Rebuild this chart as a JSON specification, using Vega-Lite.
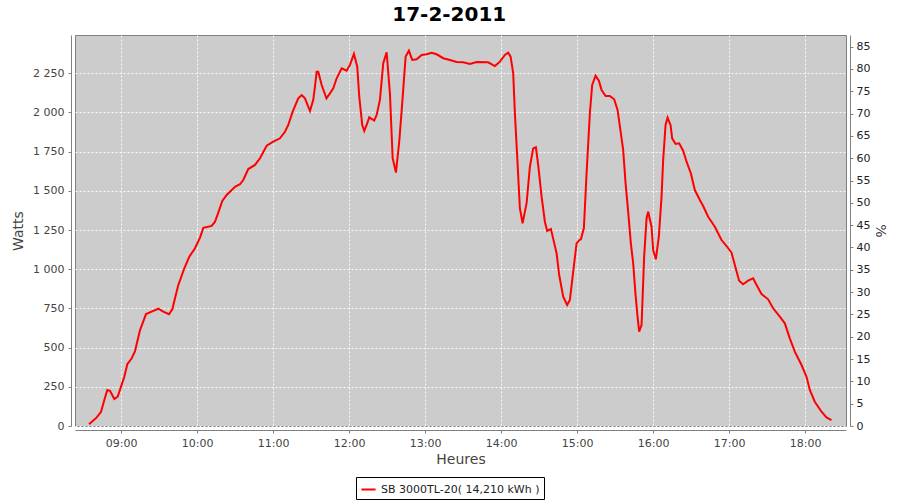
{
  "$schema": "https://vega.github.io/schema/vega-lite/v6.json",
  "width": 771,
  "height": 391,
  "autosize": {"type": "none"},
  "padding": {"left": 75, "top": 35, "right": 54, "bottom": 74},
  "background": "white",
  "title": {"text": "17-2-2011", "font": "DejaVu Sans", "fontSize": 20, "fontWeight": "bold", "color": "#000000", "anchor": "middle", "frame": "bounds", "offset": 10},
  "config": {
    "locale": {"number": {"decimal": ",", "thousands": " ", "grouping": [3], "currency": ["", ""]}},
    "view": {"fill": "#CCCCCC", "stroke": "#808080", "strokeWidth": 1},
    "axis": {"labelFont": "DejaVu Sans", "labelFontSize": 11, "labelColor": "#444444", "titleFont": "DejaVu Sans", "titleFontSize": 14, "titleFontWeight": "normal", "titleColor": "#444444", "domainColor": "#808080", "tickColor": "#808080", "tickSize": 3, "gridColor": "#FFFFFF", "gridDash": [2, 2], "gridWidth": 1, "gridOpacity": 0.9}
  },
  "layer": [
    {
      "data": {"values": [
        {"t": "2011-02-17T08:34:45", "watts": 11},
        {"t": "2011-02-17T08:40:50", "watts": 55},
        {"t": "2011-02-17T08:44:13", "watts": 91},
        {"t": "2011-02-17T08:46:49", "watts": 166},
        {"t": "2011-02-17T08:49:11", "watts": 230},
        {"t": "2011-02-17T08:51:19", "watts": 225},
        {"t": "2011-02-17T08:54:43", "watts": 172},
        {"t": "2011-02-17T08:57:24", "watts": 187},
        {"t": "2011-02-17T09:00:00", "watts": 251},
        {"t": "2011-02-17T09:02:36", "watts": 314},
        {"t": "2011-02-17T09:04:58", "watts": 394},
        {"t": "2011-02-17T09:08:27", "watts": 432},
        {"t": "2011-02-17T09:11:03", "watts": 478},
        {"t": "2011-02-17T09:15:00", "watts": 612},
        {"t": "2011-02-17T09:19:44", "watts": 714},
        {"t": "2011-02-17T09:25:29", "watts": 734},
        {"t": "2011-02-17T09:29:26", "watts": 748},
        {"t": "2011-02-17T09:33:23", "watts": 729},
        {"t": "2011-02-17T09:37:53", "watts": 713},
        {"t": "2011-02-17T09:40:29", "watts": 744},
        {"t": "2011-02-17T09:42:37", "watts": 815},
        {"t": "2011-02-17T09:45:13", "watts": 899},
        {"t": "2011-02-17T09:49:58", "watts": 1006},
        {"t": "2011-02-17T09:53:54", "watts": 1080},
        {"t": "2011-02-17T09:58:24", "watts": 1134},
        {"t": "2011-02-17T10:02:21", "watts": 1202},
        {"t": "2011-02-17T10:04:57", "watts": 1264},
        {"t": "2011-02-17T10:11:35", "watts": 1276},
        {"t": "2011-02-17T10:14:11", "watts": 1303},
        {"t": "2011-02-17T10:16:47", "watts": 1361},
        {"t": "2011-02-17T10:19:57", "watts": 1435},
        {"t": "2011-02-17T10:23:25", "watts": 1474},
        {"t": "2011-02-17T10:29:58", "watts": 1526},
        {"t": "2011-02-17T10:33:55", "watts": 1542},
        {"t": "2011-02-17T10:36:31", "watts": 1569},
        {"t": "2011-02-17T10:40:28", "watts": 1639},
        {"t": "2011-02-17T10:45:45", "watts": 1665},
        {"t": "2011-02-17T10:49:42", "watts": 1708},
        {"t": "2011-02-17T10:54:59", "watts": 1788},
        {"t": "2011-02-17T11:00:11", "watts": 1814},
        {"t": "2011-02-17T11:05:29", "watts": 1835},
        {"t": "2011-02-17T11:09:26", "watts": 1877},
        {"t": "2011-02-17T11:12:02", "watts": 1920},
        {"t": "2011-02-17T11:15:31", "watts": 2005},
        {"t": "2011-02-17T11:19:55", "watts": 2090},
        {"t": "2011-02-17T11:22:37", "watts": 2111},
        {"t": "2011-02-17T11:25:13", "watts": 2090},
        {"t": "2011-02-17T11:29:10", "watts": 2009},
        {"t": "2011-02-17T11:31:46", "watts": 2080},
        {"t": "2011-02-17T11:33:06", "watts": 2164},
        {"t": "2011-02-17T11:34:27", "watts": 2260},
        {"t": "2011-02-17T11:35:43", "watts": 2260},
        {"t": "2011-02-17T11:38:23", "watts": 2175},
        {"t": "2011-02-17T11:42:11", "watts": 2090},
        {"t": "2011-02-17T11:44:56", "watts": 2122},
        {"t": "2011-02-17T11:47:33", "watts": 2154},
        {"t": "2011-02-17T11:50:14", "watts": 2218},
        {"t": "2011-02-17T11:54:11", "watts": 2282},
        {"t": "2011-02-17T11:58:07", "watts": 2266},
        {"t": "2011-02-17T12:00:44", "watts": 2303},
        {"t": "2011-02-17T12:03:53", "watts": 2373},
        {"t": "2011-02-17T12:06:29", "watts": 2292},
        {"t": "2011-02-17T12:08:04", "watts": 2101},
        {"t": "2011-02-17T12:10:26", "watts": 1920},
        {"t": "2011-02-17T12:12:01", "watts": 1882},
        {"t": "2011-02-17T12:13:55", "watts": 1920},
        {"t": "2011-02-17T12:15:58", "watts": 1969},
        {"t": "2011-02-17T12:19:54", "watts": 1948},
        {"t": "2011-02-17T12:21:48", "watts": 1984},
        {"t": "2011-02-17T12:24:24", "watts": 2080},
        {"t": "2011-02-17T12:27:01", "watts": 2314},
        {"t": "2011-02-17T12:29:41", "watts": 2384},
        {"t": "2011-02-17T12:32:17", "watts": 2122},
        {"t": "2011-02-17T12:34:26", "watts": 1708},
        {"t": "2011-02-17T12:37:02", "watts": 1616},
        {"t": "2011-02-17T12:39:38", "watts": 1814},
        {"t": "2011-02-17T12:42:00", "watts": 2059},
        {"t": "2011-02-17T12:44:41", "watts": 2356},
        {"t": "2011-02-17T12:47:17", "watts": 2394},
        {"t": "2011-02-17T12:49:54", "watts": 2335},
        {"t": "2011-02-17T12:53:22", "watts": 2339},
        {"t": "2011-02-17T12:57:19", "watts": 2367},
        {"t": "2011-02-17T13:01:16", "watts": 2371},
        {"t": "2011-02-17T13:05:12", "watts": 2381},
        {"t": "2011-02-17T13:09:09", "watts": 2371},
        {"t": "2011-02-17T13:14:22", "watts": 2346},
        {"t": "2011-02-17T13:19:39", "watts": 2335},
        {"t": "2011-02-17T13:24:56", "watts": 2322},
        {"t": "2011-02-17T13:30:08", "watts": 2320},
        {"t": "2011-02-17T13:35:26", "watts": 2309},
        {"t": "2011-02-17T13:40:43", "watts": 2322},
        {"t": "2011-02-17T13:49:52", "watts": 2320},
        {"t": "2011-02-17T13:55:10", "watts": 2296},
        {"t": "2011-02-17T13:59:07", "watts": 2324},
        {"t": "2011-02-17T14:03:03", "watts": 2367},
        {"t": "2011-02-17T14:05:40", "watts": 2381},
        {"t": "2011-02-17T14:07:33", "watts": 2356},
        {"t": "2011-02-17T14:09:36", "watts": 2250},
        {"t": "2011-02-17T14:10:56", "watts": 1995},
        {"t": "2011-02-17T14:12:46", "watts": 1718},
        {"t": "2011-02-17T14:14:53", "watts": 1389},
        {"t": "2011-02-17T14:17:01", "watts": 1293},
        {"t": "2011-02-17T14:20:11", "watts": 1421},
        {"t": "2011-02-17T14:22:47", "watts": 1654},
        {"t": "2011-02-17T14:25:23", "watts": 1771},
        {"t": "2011-02-17T14:27:31", "watts": 1778},
        {"t": "2011-02-17T14:29:20", "watts": 1665},
        {"t": "2011-02-17T14:32:01", "watts": 1463},
        {"t": "2011-02-17T14:34:37", "watts": 1303},
        {"t": "2011-02-17T14:36:26", "watts": 1244},
        {"t": "2011-02-17T14:39:22", "watts": 1257},
        {"t": "2011-02-17T14:41:43", "watts": 1176},
        {"t": "2011-02-17T14:43:51", "watts": 1102},
        {"t": "2011-02-17T14:45:55", "watts": 963},
        {"t": "2011-02-17T14:49:04", "watts": 825},
        {"t": "2011-02-17T14:52:13", "watts": 772},
        {"t": "2011-02-17T14:54:21", "watts": 804},
        {"t": "2011-02-17T14:56:58", "watts": 984},
        {"t": "2011-02-17T14:59:38", "watts": 1165},
        {"t": "2011-02-17T15:01:41", "watts": 1185},
        {"t": "2011-02-17T15:03:02", "watts": 1191},
        {"t": "2011-02-17T15:05:24", "watts": 1261},
        {"t": "2011-02-17T15:07:32", "watts": 1612},
        {"t": "2011-02-17T15:10:08", "watts": 1995},
        {"t": "2011-02-17T15:11:57", "watts": 2175},
        {"t": "2011-02-17T15:14:38", "watts": 2235},
        {"t": "2011-02-17T15:17:14", "watts": 2203},
        {"t": "2011-02-17T15:19:22", "watts": 2143},
        {"t": "2011-02-17T15:22:32", "watts": 2105},
        {"t": "2011-02-17T15:25:55", "watts": 2105},
        {"t": "2011-02-17T15:29:19", "watts": 2084},
        {"t": "2011-02-17T15:31:59", "watts": 2016},
        {"t": "2011-02-17T15:34:36", "watts": 1867},
        {"t": "2011-02-17T15:36:25", "watts": 1761},
        {"t": "2011-02-17T15:38:19", "watts": 1548},
        {"t": "2011-02-17T15:40:22", "watts": 1367},
        {"t": "2011-02-17T15:42:29", "watts": 1165},
        {"t": "2011-02-17T15:44:19", "watts": 1038},
        {"t": "2011-02-17T15:46:12", "watts": 836},
        {"t": "2011-02-17T15:47:47", "watts": 697},
        {"t": "2011-02-17T15:49:02", "watts": 602},
        {"t": "2011-02-17T15:50:56", "watts": 644},
        {"t": "2011-02-17T15:52:59", "watts": 1080},
        {"t": "2011-02-17T15:54:53", "watts": 1325},
        {"t": "2011-02-17T15:56:09", "watts": 1367},
        {"t": "2011-02-17T15:58:50", "watts": 1271},
        {"t": "2011-02-17T16:00:05", "watts": 1123},
        {"t": "2011-02-17T16:02:13", "watts": 1063},
        {"t": "2011-02-17T16:04:35", "watts": 1208},
        {"t": "2011-02-17T16:06:43", "watts": 1463},
        {"t": "2011-02-17T16:07:59", "watts": 1697},
        {"t": "2011-02-17T16:09:53", "watts": 1920},
        {"t": "2011-02-17T16:11:28", "watts": 1967},
        {"t": "2011-02-17T16:13:49", "watts": 1920},
        {"t": "2011-02-17T16:15:05", "watts": 1835},
        {"t": "2011-02-17T16:17:46", "watts": 1799},
        {"t": "2011-02-17T16:20:37", "watts": 1803},
        {"t": "2011-02-17T16:23:46", "watts": 1756},
        {"t": "2011-02-17T16:26:27", "watts": 1686},
        {"t": "2011-02-17T16:29:50", "watts": 1612},
        {"t": "2011-02-17T16:33:00", "watts": 1505},
        {"t": "2011-02-17T16:36:57", "watts": 1442},
        {"t": "2011-02-17T16:39:33", "watts": 1403},
        {"t": "2011-02-17T16:43:30", "watts": 1335},
        {"t": "2011-02-17T16:48:47", "watts": 1271},
        {"t": "2011-02-17T16:54:04", "watts": 1186},
        {"t": "2011-02-17T16:58:01", "watts": 1148},
        {"t": "2011-02-17T17:01:58", "watts": 1105},
        {"t": "2011-02-17T17:04:34", "watts": 1027},
        {"t": "2011-02-17T17:07:58", "watts": 927},
        {"t": "2011-02-17T17:11:07", "watts": 904},
        {"t": "2011-02-17T17:15:04", "watts": 927},
        {"t": "2011-02-17T17:19:01", "watts": 942},
        {"t": "2011-02-17T17:22:10", "watts": 893},
        {"t": "2011-02-17T17:25:38", "watts": 842},
        {"t": "2011-02-17T17:30:51", "watts": 808},
        {"t": "2011-02-17T17:34:48", "watts": 751},
        {"t": "2011-02-17T17:40:05", "watts": 697},
        {"t": "2011-02-17T17:44:02", "watts": 655},
        {"t": "2011-02-17T17:47:58", "watts": 559},
        {"t": "2011-02-17T17:51:55", "watts": 474},
        {"t": "2011-02-17T17:57:13", "watts": 389},
        {"t": "2011-02-17T18:01:09", "watts": 314},
        {"t": "2011-02-17T18:03:46", "watts": 230},
        {"t": "2011-02-17T18:07:42", "watts": 155},
        {"t": "2011-02-17T18:12:59", "watts": 91},
        {"t": "2011-02-17T18:16:56", "watts": 55},
        {"t": "2011-02-17T18:20:53", "watts": 38}
      ]},
      "mark": {"type": "line", "strokeWidth": 2, "color": "#FF0000"},
      "encoding": {
        "x": {
          "field": "t", "type": "temporal",
          "scale": {"domain": [{"year": 2011, "month": 2, "date": 17, "hours": 8, "minutes": 23, "seconds": 40}, {"year": 2011, "month": 2, "date": 17, "hours": 18, "minutes": 32, "seconds": 20}], "nice": false},
          "axis": {"title": "Heures", "format": "%H:%M", "tickCount": 10, "offset": 4, "labelPadding": 4, "titlePadding": 4, "labelFlush": false, "labelOverlap": false}
        },
        "y": {
          "field": "watts", "type": "quantitative",
          "scale": {"domain": [0, 2494], "nice": false, "zero": true},
          "axis": {"title": "Watts", "format": ",d", "values": [0, 250, 500, 750, 1000, 1250, 1500, 1750, 2000, 2250], "offset": 4, "labelPadding": 4, "titlePadding": 7}
        },
        "color": {
          "datum": "SB 3000TL-20( 14,210 kWh )",
          "type": "nominal",
          "scale": {"range": ["#FF0000"]},
          "legend": {"title": null, "orient": "none", "legendX": 281, "legendY": 442, "direction": "horizontal", "strokeColor": "#000000", "padding": 4, "labelFont": "DejaVu Sans", "labelFontSize": 11, "labelColor": "#222222", "symbolType": "stroke", "symbolStrokeWidth": 2, "symbolSize": 200}
        }
      }
    },
    {
      "data": {"values": [{"pct": 0}, {"pct": 85}]},
      "mark": {"type": "point", "opacity": 0},
      "encoding": {
        "y": {
          "field": "pct", "type": "quantitative",
          "scale": {"domain": [0, 87.6], "nice": false, "zero": true},
          "axis": {"title": "%", "orient": "right", "grid": false, "values": [0, 5, 10, 15, 20, 25, 30, 35, 40, 45, 50, 55, 60, 65, 70, 75, 80, 85], "offset": 4, "labelPadding": 3, "titlePadding": 3, "labelColor": "#222222"}
        }
      }
    }
  ],
  "resolve": {"scale": {"y": "independent"}}
}
